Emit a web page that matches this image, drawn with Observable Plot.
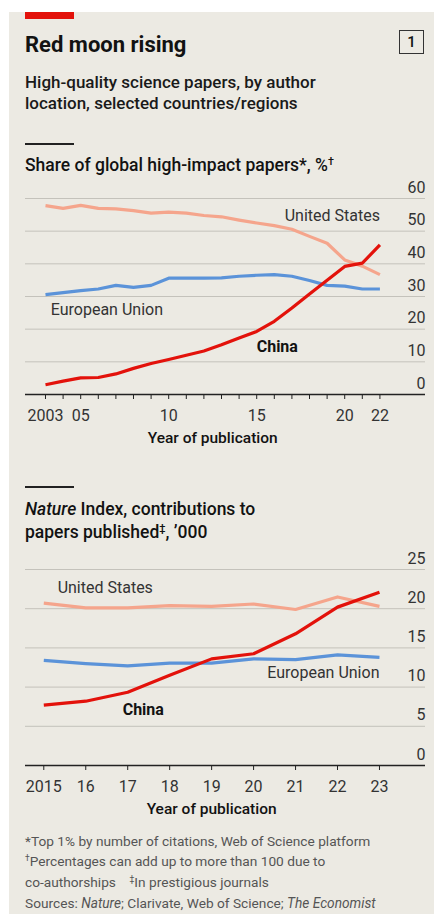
<!DOCTYPE html>
<html><head><meta charset="utf-8">
<script src="https://cdn.jsdelivr.net/npm/d3@7"></script>
<script src="https://cdn.jsdelivr.net/npm/@observablehq/plot@0.6"></script>
<style>
body{margin:0;background:#fff;font-family:Roboto,"Noto Sans",sans-serif;color:#121212;}
#wrap{position:relative;width:434px;height:915px;overflow:hidden;}
.abs{position:absolute;}
sup{font-size:0.62em;line-height:0;vertical-align:0.55em;}
.svgbox{position:absolute;left:0;}
</style></head><body><div id="wrap">
<div class="abs" style="left:9px;top:12px;right:0;height:902px;background:#ECEAE3;"></div>
<div class="abs" style="left:25px;top:12px;width:49px;height:7px;background:#E3120B;"></div>
<div class="abs" style="left:25px;top:32px;font-size:22px;line-height:26px;font-weight:700;">Red moon rising</div>
<div class="abs" style="left:399px;top:30px;width:23px;height:22px;border:1.5px solid #333;font-size:15px;line-height:22px;text-align:center;font-weight:500;">1</div>
<div class="abs" style="left:25px;top:71.5px;font-size:17px;line-height:21px;font-weight:500;color:#1a1a1a;">High-quality science papers, by author<br>location, selected countries/regions</div>
<div class="abs" style="left:25px;top:143px;width:49px;height:1.5px;background:#222;"></div>
<div class="abs" style="left:25px;top:154.5px;font-size:17.5px;line-height:21px;font-weight:500;">Share of global high-impact papers*, %<sup>†</sup></div>
<div class="abs" style="left:25px;top:486px;width:49px;height:1.5px;background:#222;"></div>
<div class="abs" style="left:25px;top:498px;font-size:17.5px;line-height:22.5px;font-weight:500;"><i>Nature</i> Index, contributions to<br>papers published<sup>‡</sup>, ’000</div>
<div class="abs" style="left:25px;top:830.5px;font-size:13.7px;line-height:20.7px;color:#555;">*Top 1% by number of citations, Web of Science platform<br><sup>†</sup>Percentages can add up to more than 100 due to<br>co-authorships &nbsp;&nbsp; <sup>‡</sup>In prestigious journals<br>Sources: <i>Nature</i>; Clarivate, Web of Science; <i>The Economist</i></div>
<div id="c1" class="svgbox" style="top:175px;"></div>
<div id="c2" class="svgbox" style="top:550px;"></div>
</div>
<script>
// ---- Chart 1: share of global high-impact papers, %
const years1 = [2003,2004,2005,2006,2007,2008,2009,2010,2011,2012,2013,2014,2015,2016,2017,2018,2019,2020,2021,2022];
const us1 = [57.8,57.0,57.9,57.0,56.8,56.3,55.5,55.8,55.5,54.8,54.4,53.4,52.5,51.7,50.6,48.4,46.3,41.2,39.3,36.7];
const eu1 = [30.6,31.2,31.8,32.3,33.4,32.8,33.4,35.6,35.6,35.6,35.7,36.2,36.5,36.7,36.2,34.9,33.4,33.2,32.3,32.3];
const cn1 = [3.0,4.1,5.1,5.2,6.3,8.0,9.5,10.7,12.0,13.3,15.2,17.3,19.3,22.4,26.5,30.8,35.0,39.2,40.2,45.8];
const yTicks1 = [0,10,20,30,40,50,60];
const xLabelYears1 = [2003,2005,2010,2015,2020,2022];
const xLabelText1 = ["2003","05","10","15","20","22"];
const labels1 = [
  {name:"United States", year:2022, value:54.8, anchor:"end", bold:false},
  {name:"European Union", year:2003.3, value:26.0, anchor:"start", bold:false},
  {name:"China", year:2015, value:14.5, anchor:"start", bold:true}
];

// ---- Chart 2: Nature Index contributions, '000
const years2 = [2015,2016,2017,2018,2019,2020,2021,2022,2023];
const us2 = [20.7,20.1,20.1,20.4,20.3,20.6,19.9,21.5,20.3];
const eu2 = [13.4,13.0,12.7,13.05,13.05,13.6,13.5,14.1,13.8];
const cn2 = [7.7,8.2,9.35,11.5,13.6,14.25,16.8,20.2,22.1];
const yTicks2 = [0,5,10,15,20,25];
const xLabelYears2 = [2015,2016,2017,2018,2019,2020,2021,2022,2023];
const xLabelText2 = ["2015","16","17","18","19","20","21","22","23"];
const labels2 = [
  {name:"United States", year:2015.33, value:22.6, anchor:"start", bold:false},
  {name:"European Union", year:2023, value:11.8, anchor:"end", bold:false},
  {name:"China", year:2016.88, value:7.1, anchor:"start", bold:true}
];

const colors = {us:"#F5A58C", eu:"#5B93D9", cn:"#E3120B"};

function makeChart({years, us, eu, cn, yTicks, labelYears, labelText, labels, xDomain, height, marginTop, marginBottom}) {
  const rows = [];
  const series = [["eu", eu], ["us", us], ["cn", cn]];
  for (const [key, vals] of series) years.forEach((yr, i) => rows.push({key, year: yr, value: vals[i]}));
  const fmt = new Map(labelYears.map((y, i) => [y, labelText[i]]));
  const mid = (years[0] + years[years.length - 1]) / 2;
  const labelMarks = labels.map(l => Plot.text([l], {
    x: "year", y: "value", text: "name", textAnchor: l.anchor, fontSize: 16,
    fontWeight: l.bold ? 700 : 400, fill: l.bold ? "#121212" : "#333"
  }));
  return Plot.plot({
    width: 434, height, marginLeft: 25, marginRight: 9, marginTop, marginBottom,
    style: {background: "transparent", fontFamily: "Roboto, sans-serif", overflow: "visible"},
    x: {domain: xDomain, axis: null},
    y: {domain: [yTicks[0], yTicks[yTicks.length - 1]], axis: null},
    marks: [
      Plot.gridY({ticks: yTicks.filter(d => d !== 0), stroke: "#c4c2bb", strokeOpacity: 1, strokeWidth: 1}),
      Plot.axisY({ticks: yTicks, anchor: "right", label: null, tickSize: 0, tickPadding: 0, textAnchor: "end", dy: -11, fontSize: 16, fill: "#333", tickFormat: d => String(d)}),
      Plot.axisX({ticks: years, anchor: "bottom", label: null, tickSize: 5, tickPadding: 10, fontSize: 16, fill: "#333", stroke: "#222", tickFormat: d => fmt.get(d) ?? ""}),
      Plot.ruleY([0], {stroke: "#222", strokeWidth: 1.3}),
      Plot.line(rows, {x: "year", y: "value", z: "key", stroke: d => colors[d.key], strokeWidth: 3.2, curve: "linear", strokeLinejoin: "round", strokeLinecap: "butt"}),
      ...labelMarks,
      Plot.text(["Year of publication"], {x: () => mid, frameAnchor: "bottom", dy: 48, text: d => d, fontSize: 15.5, fontWeight: 500, fill: "#121212"})
    ]
  });
}

// x domains chosen so that the plot frame spans the full gridline width
document.getElementById("c1").appendChild(makeChart({
  years: years1, us: us1, eu: eu1, cn: cn1, yTicks: yTicks1,
  labelYears: xLabelYears1, labelText: xLabelText1, labels: labels1,
  xDomain: [2001.864, 2024.59], height: 285, marginTop: 23, marginBottom: 66
}));
document.getElementById("c2").appendChild(makeChart({
  years: years2, us: us2, eu: eu2, cn: cn2, yTicks: yTicks2,
  labelYears: xLabelYears2, labelText: xLabelText2, labels: labels2,
  xDomain: [2014.564, 2024.097], height: 275, marginTop: 19, marginBottom: 60
}));
</script>
</body></html>
